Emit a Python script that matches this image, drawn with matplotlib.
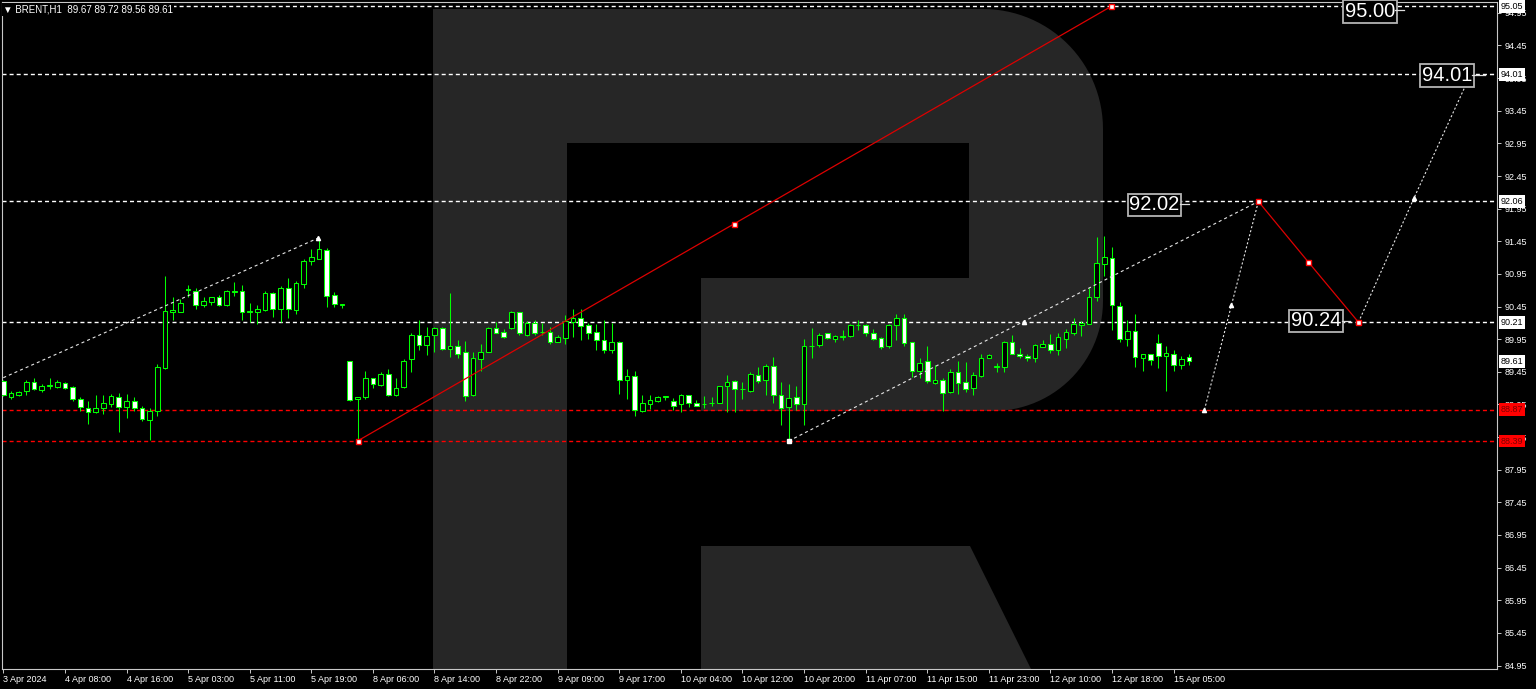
import numpy as np
import matplotlib
matplotlib.use('Agg')
import matplotlib.pyplot as plt
from matplotlib.patches import Polygon
from matplotlib.transforms import blended_transform_factory

plt.rcParams['font.family'] = ['Liberation Sans', 'DejaVu Sans']
plt.rcParams['lines.scale_dashes'] = False

# BRENT H1 candles
opens = [89.31, 89.07, 89.09, 89.15, 89.30, 89.17, 89.24, 89.22, 89.28, 89.22,
         89.04, 88.90, 88.84, 88.90, 88.96, 89.07, 88.91, 89.01, 88.90, 88.71,
         88.85, 89.51, 90.36, 90.36, 90.71, 90.69, 90.47, 90.52, 90.60, 90.47,
         90.68, 90.69, 90.37, 90.37, 90.40, 90.65, 90.42, 90.73, 90.39, 90.80,
         91.15, 91.18, 91.31, 90.62, 90.48, 89.61, 89.03, 89.06, 89.35, 89.25,
         89.42, 89.09, 89.21, 89.64, 90.02, 89.86, 90.01, 90.12, 89.80, 89.85,
         89.75, 89.09, 89.64, 89.76, 90.12, 90.06, 90.12, 90.37, 90.02, 90.20,
         90.06, 90.06, 89.91, 89.97, 90.22, 90.28, 90.16, 90.06, 89.93, 89.79,
         89.90, 89.32, 89.39, 88.85, 88.95, 89.00, 89.07, 89.00, 88.95, 89.09,
         88.98, 88.95, 88.97, 88.98, 89.23, 89.31, 89.18, 89.15, 89.40, 89.32,
         89.54, 89.10, 88.91, 89.07, 88.95, 89.84, 89.86, 90.04, 89.96, 89.99,
         90.00, 90.16, 90.17, 90.05, 89.97, 89.84, 90.17, 90.28, 89.91, 89.46,
         89.61, 89.28, 89.33, 89.14, 89.44, 89.30, 89.20, 89.38, 89.66, 89.53,
         89.53, 89.91, 89.73, 89.69, 89.66, 89.83, 89.88, 89.78, 89.96, 90.05,
         90.17, 90.19, 90.60, 91.10, 91.19, 90.46, 89.96, 90.07, 89.66, 89.72,
         89.89, 89.70, 89.73, 89.56, 89.67]
highs = [89.33, 89.16, 89.16, 89.32, 89.35, 89.26, 89.35, 89.33, 89.30, 89.23,
         89.06, 89.01, 89.09, 89.10, 89.11, 89.12, 89.11, 89.07, 88.92, 88.90,
         89.57, 90.92, 90.59, 90.56, 90.78, 90.73, 90.60, 90.60, 90.63, 90.71,
         90.83, 90.78, 90.51, 90.47, 90.69, 90.67, 90.77, 90.89, 90.84, 91.18,
         91.33, 91.50, 91.34, 90.68, 90.49, 89.62, 89.07, 89.47, 89.36, 89.44,
         89.49, 89.35, 89.64, 90.05, 90.24, 90.13, 90.14, 90.13, 90.65, 89.93,
         89.92, 89.76, 89.88, 90.13, 90.22, 90.10, 90.38, 90.37, 90.23, 90.24,
         90.20, 90.13, 90.02, 90.32, 90.42, 90.42, 90.20, 90.18, 90.25, 90.20,
         89.92, 89.50, 89.47, 89.10, 89.09, 89.08, 89.08, 89.05, 89.11, 89.10,
         89.02, 89.08, 89.06, 89.23, 89.40, 89.32, 89.30, 89.45, 89.52, 89.57,
         89.68, 89.29, 89.26, 89.23, 89.96, 90.12, 90.05, 90.05, 90.01, 90.09,
         90.18, 90.24, 90.18, 90.10, 89.98, 90.18, 90.33, 90.34, 89.91, 89.66,
         89.85, 89.55, 89.35, 89.50, 89.62, 89.60, 89.44, 89.72, 89.73, 89.59,
         89.92, 90.01, 89.81, 89.72, 89.88, 89.93, 90.03, 90.05, 90.10, 90.28,
         90.23, 90.74, 91.52, 91.53, 91.36, 90.52, 90.25, 90.34, 89.73, 89.73,
         90.03, 89.85, 89.78, 89.69, 89.72]
lows = [89.08, 89.03, 89.08, 89.09, 89.17, 89.14, 89.19, 89.20, 89.19, 89.00,
        88.85, 88.65, 88.82, 88.81, 88.91, 88.53, 88.74, 88.85, 88.69, 88.41,
        88.77, 89.50, 90.24, 90.36, 90.60, 90.42, 90.44, 90.47, 90.46, 90.46,
        90.61, 90.25, 90.22, 90.18, 90.38, 90.29, 90.22, 90.27, 90.33, 90.73,
        91.08, 91.18, 90.45, 90.45, 90.43, 89.01, 88.39, 89.03, 89.20, 89.23,
        89.08, 89.08, 89.20, 89.44, 89.79, 89.71, 89.76, 89.79, 89.68, 89.66,
        89.01, 89.08, 89.46, 89.75, 90.04, 89.97, 90.11, 90.02, 90.00, 90.02,
        90.02, 89.88, 89.90, 89.87, 89.98, 89.93, 89.95, 89.78, 89.74, 89.74,
        89.11, 89.03, 88.78, 88.83, 88.88, 88.99, 89.02, 88.87, 88.83, 88.91,
        88.92, 88.90, 88.92, 88.97, 88.84, 88.83, 89.04, 89.14, 89.28, 89.09,
        88.98, 88.63, 88.39, 88.87, 88.64, 89.66, 89.83, 89.96, 89.90, 89.93,
        89.99, 90.09, 90.00, 89.94, 89.80, 89.82, 89.93, 89.85, 89.37, 89.36,
        89.28, 89.26, 88.85, 89.13, 89.11, 89.14, 89.09, 89.37, 89.66, 89.45,
        89.45, 89.72, 89.66, 89.61, 89.60, 89.83, 89.74, 89.71, 89.81, 90.02,
        90.00, 90.18, 90.54, 90.92, 90.09, 89.91, 89.85, 89.53, 89.47, 89.55,
        89.51, 89.16, 89.46, 89.50, 89.56]
closes = [89.10, 89.13, 89.14, 89.30, 89.18, 89.24, 89.25, 89.29, 89.20, 89.04,
          88.91, 88.84, 88.90, 88.98, 89.08, 88.91, 89.01, 88.90, 88.73, 88.85,
          89.52, 90.38, 90.39, 90.51, 90.72, 90.47, 90.54, 90.59, 90.47, 90.69,
          90.68, 90.36, 90.37, 90.42, 90.65, 90.42, 90.73, 90.41, 90.81, 91.15,
          91.21, 91.33, 90.61, 90.49, 90.48, 89.02, 89.07, 89.36, 89.26, 89.42,
          89.09, 89.20, 89.62, 90.02, 89.86, 90.00, 90.12, 89.80, 89.85, 89.73,
          89.08, 89.66, 89.75, 90.12, 90.05, 89.99, 90.37, 90.04, 90.20, 90.05,
          90.06, 89.90, 89.98, 90.23, 90.28, 90.15, 90.05, 89.93, 89.78, 89.90,
          89.33, 89.38, 88.86, 88.97, 89.02, 89.07, 89.07, 88.93, 89.09, 88.98,
          88.93, 88.95, 88.98, 89.23, 89.29, 89.18, 89.18, 89.41, 89.31, 89.54,
          89.09, 88.89, 89.05, 88.96, 89.85, 89.85, 90.02, 89.97, 90.00, 90.00,
          90.16, 90.17, 90.04, 89.95, 89.83, 90.16, 90.28, 89.89, 89.46, 89.59,
          89.31, 89.32, 89.13, 89.44, 89.28, 89.18, 89.40, 89.66, 89.71, 89.54,
          89.91, 89.73, 89.70, 89.66, 89.86, 89.88, 89.79, 89.98, 90.06, 90.18,
          90.20, 90.60, 91.12, 91.21, 90.47, 89.95, 90.08, 89.68, 89.72, 89.63,
          89.70, 89.74, 89.55, 89.64, 89.61]

time_labels = ['3 Apr 2024', '4 Apr 08:00', '4 Apr 16:00', '5 Apr 03:00', '5 Apr 11:00',
               '5 Apr 19:00', '8 Apr 06:00', '8 Apr 14:00', '8 Apr 22:00', '9 Apr 09:00',
               '9 Apr 17:00', '10 Apr 04:00', '10 Apr 12:00', '10 Apr 20:00', '11 Apr 07:00',
               '11 Apr 15:00', '11 Apr 23:00', '12 Apr 10:00', '12 Apr 18:00', '15 Apr 05:00']
price_ticks = [84.95, 85.45, 85.95, 86.45, 86.95, 87.45, 87.95, 88.45, 88.95, 89.45,
               89.95, 90.45, 90.95, 91.45, 91.95, 92.45, 92.95, 93.45, 93.95, 94.45, 94.95]

white_levels = [95.05, 94.01, 92.06, 90.21]
red_levels = [88.87, 88.39]
current_price = 89.61

# trend / forecast lines as (bar, price)
trend1_x, trend1_y = [0, 40.9], [89.36, 91.50]
trend2_x, trend2_y = [102, 132.5, 163], [88.39, 90.22, 92.06]
red1_x, red1_y = [46, 94.95, 143.9], [88.39, 91.72, 95.05]
red2_x, red2_y = [163, 169.5, 176], [92.06, 91.13, 90.21]
fc1_x, fc1_y = [156, 159.5, 163], [88.87, 90.47, 92.06]
fc2_x, fc2_y = [176, 183.2, 190.5], [90.21, 92.11, 93.99]

target_text = ['95.00', '94.01', '92.02', '90.24']
target_x = [177.5, 187.5, 149.5, 170.5]
target_y = [94.97, 93.99, 92.01, 90.23]

GREEN = '#00ff00'
LOGO = '#262626'

fig = plt.figure(figsize=(15.36, 6.89), dpi=100, facecolor='black')

# watermark logo behind the chart, in pixel coordinates
bg = fig.add_axes([0, 0, 1, 1], zorder=0)
bg.set_xlim(0, 1536)
bg.set_ylim(689, 0)
bg.axis('off')
bg.set_facecolor('black')
bg.add_patch(Polygon([(433, 9), (567, 9), (567, 669), (433, 669)], closed=True, fc=LOGO, ec='none'))
r1, r2 = 120, 110
t = np.linspace(0, np.pi / 2, 30)
top_arc = np.column_stack([1103 - r1 + r1 * np.sin(t), 9 + r1 - r1 * np.cos(t)])
bot_arc = np.column_stack([1103 - r2 + r2 * np.cos(t), 411 - r2 + r2 * np.sin(t)])
bowl = np.vstack([[(567, 9)], top_arc, bot_arc,
                  [(701, 411), (701, 278), (969, 278), (969, 143), (567, 143)]])
bg.add_patch(Polygon(bowl, closed=True, fc=LOGO, ec='none'))
bg.add_patch(Polygon([(701, 546), (970, 546), (1031, 669), (701, 669)], closed=True, fc=LOGO, ec='none'))

ax = fig.add_axes([2 / 1536, 20 / 689, 1495 / 1536, 667 / 689], zorder=1)
ax.set_facecolor('none')

x = np.arange(len(opens))
o = np.array(opens)
c = np.array(closes)
ax.vlines(x, lows, highs, color=GREEN, lw=0.75, zorder=3)
bottoms = np.minimum(o, c)
heights = np.maximum(np.abs(c - o), 0.006)
fills = ['white' if cc < oo else 'black' for oo, cc in zip(opens, closes)]
ax.bar(x, heights, bottom=bottoms, width=0.6, color=fills, edgecolor=GREEN, linewidth=0.75, zorder=4)

# horizontal levels
for lvl in white_levels:
    ax.axhline(lvl, color='white', lw=1.0, dashes=(2.9, 2.2), zorder=2)
for lvl in red_levels:
    ax.axhline(lvl, color='#ff0000', lw=1.0, dashes=(2.9, 2.2), zorder=2)

# trend lines
for xs, ys in [(trend1_x, trend1_y), (trend2_x, trend2_y)]:
    ax.plot(xs, ys, color='#e6e6e6', lw=0.8, dashes=(2.2, 2.2), zorder=5)
    ax.plot(xs[1:], ys[1:], ls='none', marker='^', ms=3, color='white', zorder=6)
ax.plot(trend2_x[0], trend2_y[0], ls='none', marker='s', ms=2.5, color='white', zorder=6)
for xs, ys in [(fc1_x, fc1_y), (fc2_x, fc2_y)]:
    ax.plot(xs, ys, color='#e6e6e6', lw=0.8, dashes=(1.5, 1.5), zorder=5)
    ax.plot(xs, ys, ls='none', marker='^', ms=3, color='white', zorder=6)
for xs, ys in [(red1_x, red1_y), (red2_x, red2_y)]:
    ax.plot(xs, ys, color='#dd0000', lw=0.9, zorder=5)
    ax.plot(xs, ys, ls='none', marker='s', ms=3.6, mfc='white', mec='#ff0000', mew=1, zorder=6)

# forecast target boxes
for s, tx, ty in zip(target_text, target_x, target_y):
    ax.text(tx, ty, s, fontsize=14.5, color='white', ha='center', va='center', zorder=8,
            bbox=dict(boxstyle='square,pad=0.08', fc='black', ec='#b4b4b4', lw=1.3))
for x0, x1, yy in [(180.7, 181.9, 94.99), (190.8, 192.4, 93.99), (152.8, 154.0, 92.02), (173.8, 174.9, 90.23)]:
    ax.plot([x0, x1], [yy, yy], color='#dddddd', lw=0.9, zorder=8)

ax.set_xlim(-0.17, 193.99)
ax.set_ylim(84.897, 95.116)

ax.set_xticks(np.arange(0, 8 * len(time_labels), 8))
ax.set_xticklabels(time_labels, ha='left')
ax.yaxis.tick_right()
ax.set_yticks(price_ticks)
ax.set_yticklabels([f'{p:.2f}' for p in price_ticks])
ax.tick_params(axis='x', colors='#c8c8c8', labelcolor='white', labelsize=6.5, length=3, width=0.7, pad=1.5)
ax.tick_params(axis='y', colors='#c8c8c8', labelcolor='white', labelsize=6.5, length=3, width=0.7, pad=2.5)
for sp in ax.spines.values():
    sp.set_color('#c8c8c8')
    sp.set_linewidth(0.8)

# highlighted prices on the axis
trans = blended_transform_factory(ax.transAxes, ax.transData)
for lvl in white_levels + [current_price]:
    ax.text(1.0026, lvl, f'{lvl:.2f}', transform=trans, ha='left', va='center', fontsize=6.5,
            color='black', zorder=10, clip_on=False,
            bbox=dict(boxstyle='square,pad=0.22', fc='white', ec='white', lw=0))
for lvl in red_levels:
    ax.text(1.0026, lvl, f'{lvl:.2f}', transform=trans, ha='left', va='center', fontsize=6.5,
            color='#7a0000', zorder=10, clip_on=False,
            bbox=dict(boxstyle='square,pad=0.22', fc='#ff0000', ec='#ff0000', lw=0))
for lvl in white_levels:
    ax.plot([0.9952, 0.9972], [lvl, lvl], transform=trans, color='white', lw=0.8, clip_on=False, zorder=9)
for lvl in red_levels:
    ax.plot([0.9952, 0.9972], [lvl, lvl], transform=trans, color='#ff0000', lw=0.8, clip_on=False, zorder=9)

header = f'\u25bc BRENT,H1  {opens[-1]:.2f} {highs[-1]:.2f} {lows[-1]:.2f} {closes[-1]:.2f}'
fig.text(3 / 1536, 1 - 9.5 / 689, header, fontsize=7, color='white', ha='left', va='center',
         zorder=20, bbox=dict(fc='black', ec='none', pad=1))

fig.savefig('out.png', dpi=100, facecolor='black')
